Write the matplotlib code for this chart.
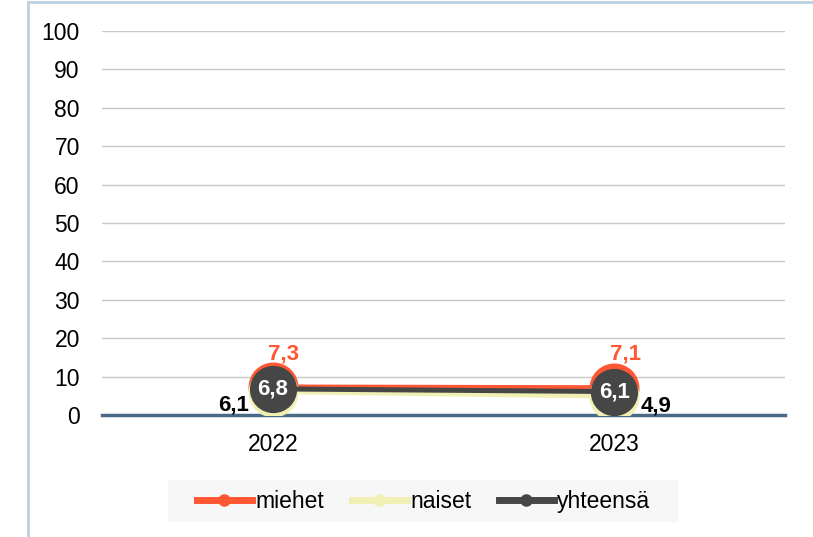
import matplotlib.pyplot as plt
from matplotlib.lines import Line2D
from matplotlib.patches import Rectangle

plt.rcParams['font.family'] = ['Liberation Sans', 'DejaVu Sans']

years = ["2022", "2023"]
miehet = [7.3, 7.1]
naiset = [6.1, 4.9]
yhteensa = [6.8, 6.1]
names = ["miehet", "naiset", "yhteensä"]

c_m = "#FF5733"
c_n = "#F0F0B4"
c_y = "#464646"

fig = plt.figure(figsize=(8.13, 5.37), dpi=100)
ax = fig.add_axes([0.1255, 0.2272, 0.84, 0.7151])

x = range(len(years))
ax.plot(x, miehet, color=c_m, lw=3.6, marker="o", ms=35, zorder=3)
ax.plot(x, naiset, color=c_n, lw=3.6, marker="o", ms=35, zorder=4)
ax.plot(x, yhteensa, color=c_y, lw=3.6, marker="o", ms=33, zorder=5)

def fmt(v):
    return f"{v:.1f}".replace(".", ",")

for i in x:
    ax.annotate(fmt(miehet[i]), (i, miehet[i]), xytext=(8, 24),
                textcoords="offset points", ha="center", va="center",
                color=c_m, fontsize=16, fontweight="bold", zorder=6)
    ax.annotate(fmt(yhteensa[i]), (i, yhteensa[i]),
                ha="center", va="center", color="white", fontsize=16,
                fontweight="bold", zorder=6)
ax.annotate(fmt(naiset[0]), (0, naiset[0]), xytext=(-28, -10),
            textcoords="offset points", ha="center", va="center",
            color="black", fontsize=16, fontweight="bold", zorder=6)
ax.annotate(fmt(naiset[1]), (1, naiset[1]), xytext=(30, -7),
            textcoords="offset points", ha="center", va="center",
            color="black", fontsize=16, fontweight="bold", zorder=6)

ax.set_xlim(-0.5, 1.5)
ax.set_ylim(0, 100)
ax.set_yticks(range(0, 101, 10))
ax.set_xticks(list(x))
ax.set_xticklabels(years)
ax.tick_params(length=0, labelsize=16.5, colors="black")
ax.tick_params(axis="y", pad=16)
ax.tick_params(axis="x", pad=13)
ax.grid(axis="y", color="#c8c8c8", lw=1)
ax.set_axisbelow(True)
for s in ["top", "right", "left"]:
    ax.spines[s].set_visible(False)
ax.spines["bottom"].set_color("#4a6a88")
ax.spines["bottom"].set_linewidth(2.5)
ax.spines["bottom"].set_zorder(2)

# legend background box
fig.add_artist(Rectangle((0.2066, 0.028), 0.627, 0.078, transform=fig.transFigure,
                         facecolor="#f7f7f7", edgecolor="none", zorder=0))
handles = [Line2D([], [], color=c, lw=5, marker="o", ms=8) for c in (c_m, c_n, c_y)]
leg = fig.legend(handles, names, loc="center", bbox_to_anchor=(0.521, 0.067), ncol=3,
                 frameon=False, fontsize=16.5, handlelength=2.4,
                 handletextpad=0.15, columnspacing=1.2, borderpad=0.3)

# outer border (left and top)
fig.add_artist(Line2D([0.0345, 0.0345], [0, 0.996], color="#bcd0e0", lw=2))
fig.add_artist(Line2D([0.0345, 1], [0.996, 0.996], color="#bcd0e0", lw=2))

fig.savefig("out.png", dpi=100)
